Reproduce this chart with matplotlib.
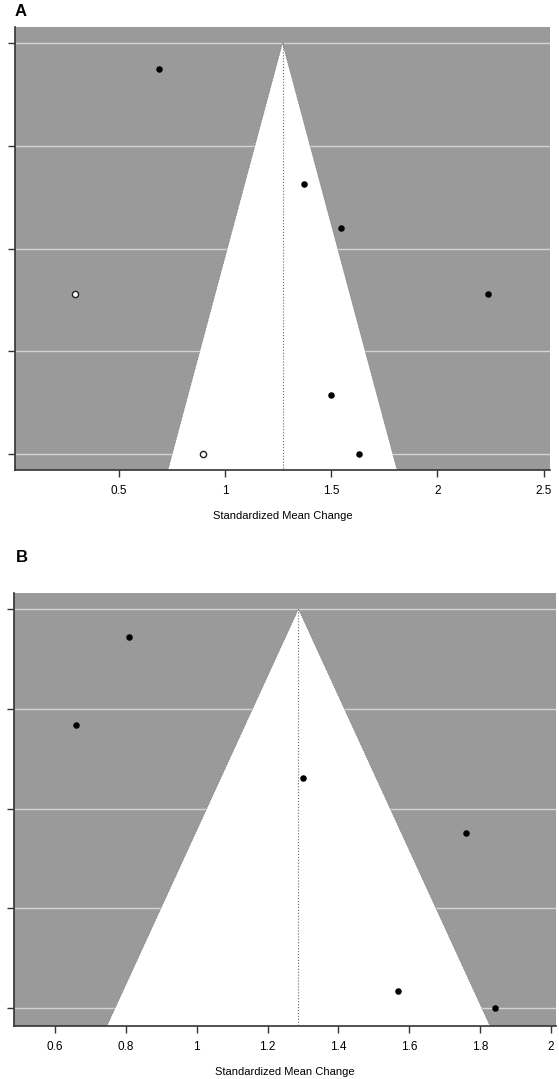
import numpy as np
import matplotlib.pyplot as plt

plt.rcParams['font.family'] = ['Liberation Sans', 'DejaVu Sans']

# panel A: observed studies (filled) and trim-and-fill studies (open)
a_est = 1.27
a_x = [0.689, 1.373, 1.547, 2.236, 1.500, 1.632]
a_se = [0.017, 0.091, 0.119, 0.162, 0.227, 0.265]
a_fill_x = [0.292, 0.896]
a_fill_se = [0.162, 0.265]
a_xticks = [0.5, 1, 1.5, 2, 2.5]
a_xticklabels = ['0.5', '1', '1.5', '2', '2.5']

# panel B
b_est = 1.287
b_x = [0.808, 0.658, 1.300, 1.761, 1.567, 1.842]
b_se = [0.0185, 0.077, 0.112, 0.148, 0.253, 0.264]
b_xticks = [0.6, 0.8, 1, 1.2, 1.4, 1.6, 1.8, 2]
b_xticklabels = ['0.6', '0.8', '1', '1.2', '1.4', '1.6', '1.8', '2']

W, H = 559, 1079
fig = plt.figure(figsize=(W / 100, H / 100), dpi=100)


def funnel(ax, est, xs, ses, fx, fses, xticks, xlabels, xlim, ylim):
    ytop, ybot = ylim
    max_se = max(ses + fses)
    yt = np.linspace(0, max_se, 5)
    ax.set_facecolor('#9a9a9a')
    for y in yt:
        ax.axhline(y, color='#d4d4d4', lw=1.0, zorder=1)
    half = 1.96 * ybot
    poly = [(est - half, ybot), (est, 0), (est + half, ybot)]
    ax.fill([p[0] for p in poly], [p[1] for p in poly], color='white', zorder=2, lw=0)
    ax.plot([est - half, est, est + half], [ybot, 0, ybot], color='#555555', lw=0.5, ls=':', zorder=3)
    ax.plot([est, est], [0, ybot], color='#666666', lw=0.8, ls=':', zorder=3)
    ax.scatter(xs, ses, s=22, color='black', zorder=4, lw=0)
    if fx:
        ax.scatter(fx, fses, s=20, facecolor='white', edgecolor='#222222', lw=1.0, zorder=4)
    ax.set_xlim(*xlim)
    ax.set_ylim(ybot, ytop)
    ax.set_yticks(yt)
    ax.set_yticklabels([])
    ax.set_xticks(xticks)
    ax.set_xticklabels(xlabels, fontsize=8.5)
    ax.tick_params(axis='both', length=5, width=1, color='#333333', pad=6)
    for s in ['top', 'right']:
        ax.spines[s].set_visible(False)
    for s in ['left', 'bottom']:
        ax.spines[s].set_color('#333333')
        ax.spines[s].set_linewidth(1.2)
    ax.set_xlabel('Standardized Mean Change', fontsize=8, labelpad=10)


def box(l, t, r, b):
    return [l / W, 1 - b / H, (r - l) / W, (b - t) / H]


axA = fig.add_axes(box(15, 27, 550, 470))
funnel(axA, a_est, a_x, a_se, a_fill_x, a_fill_se, a_xticks, a_xticklabels,
       (0.01, 2.53), (-0.0103, 0.2753))

axB = fig.add_axes(box(14, 593, 556, 1026))
funnel(axB, b_est, b_x, b_se, [], [], b_xticks, b_xticklabels,
       (0.484, 2.014), (-0.0106, 0.2759))

fig.text(15 / W, 1 - 11 / H, 'A', fontsize=12, fontweight='bold', va='center', ha='left')
fig.text(16 / W, 1 - 557 / H, 'B', fontsize=12, fontweight='bold', va='center', ha='left')

fig.savefig('out.png', dpi=100)
